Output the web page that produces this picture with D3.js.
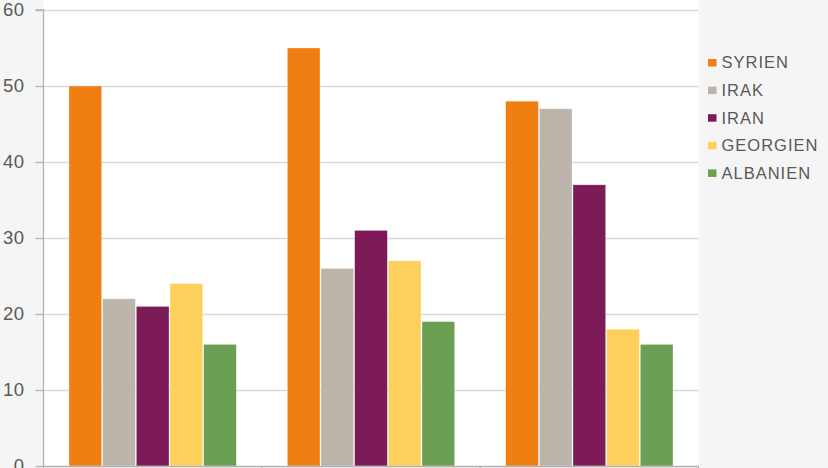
<!DOCTYPE html>
<html><head><meta charset="utf-8">
<script src="https://cdn.jsdelivr.net/npm/d3@7"></script>
<style>
html,body{margin:0;padding:0;background:#f5f5f5;}
svg{display:block;font-family:"Liberation Sans",Arial,sans-serif;}
</style></head>
<body>
<script>
const categories = ["Gruppe 1", "Gruppe 2", "Gruppe 3"];
const seriesNames = ["SYRIEN", "IRAK", "IRAN", "GEORGIEN", "ALBANIEN"];
const SYRIEN = [50, 55, 48];
const IRAK = [22, 26, 47];
const IRAN = [21, 31, 37];
const GEORGIEN = [24, 27, 18];
const ALBANIEN = [16, 19, 16];
const seriesColors = ["#f07e12", "#bdb4ab", "#7d1b59", "#fdd05c", "#6b9f54"];
const yTicks = [0, 10, 20, 30, 40, 50, 60];

const seriesValues = [SYRIEN, IRAK, IRAN, GEORGIEN, ALBANIEN];
const W = 828, H = 468;
const mLeft = 43.5, mRight = 698.5, mTop = 10, mBottom = 466;

const svg = d3.select("body").append("svg").attr("width", W).attr("height", H);
svg.append("rect").attr("width", W).attr("height", H).attr("fill", "#f5f5f5");
svg.append("rect").attr("x", mLeft).attr("y", 0).attr("width", mRight - mLeft).attr("height", mBottom).attr("fill", "#ffffff");

const x0 = d3.scaleBand().domain(categories).range([mLeft, mRight]).padding(0);
const x1 = d3.scaleBand().domain(seriesNames).range([25, x0.bandwidth() - 25]).padding(0);
const y = d3.scaleLinear().domain([0, 60]).range([mBottom, mTop]);

// gridlines
svg.append("g").selectAll("line").data(yTicks.filter(d => d > 0)).join("line")
  .attr("x1", mLeft).attr("x2", mRight)
  .attr("y1", d => Math.round(y(d)) + 0.5).attr("y2", d => Math.round(y(d)) + 0.5)
  .attr("stroke", "#d9d9d9").attr("stroke-width", 1.5);

// bars
const groups = svg.append("g").selectAll("g").data(categories).join("g")
  .attr("transform", d => `translate(${x0(d)},0)`);
groups.selectAll("rect").data((d, i) => seriesNames.map((s, k) => ({s, k, v: seriesValues[k][i]}))).join("rect")
  .attr("x", d => x1(d.s) + 0.5)
  .attr("width", x1.bandwidth() - 1)
  .attr("y", d => y(d.v))
  .attr("height", d => mBottom - y(d.v))
  .attr("fill", d => seriesColors[d.k])
  .attr("stroke", "#ffffff").attr("stroke-opacity", 0.5).attr("stroke-width", 0.6);

// y axis
const yAxis = d3.axisLeft(y).tickValues(yTicks).tickSize(8).tickPadding(11);
const ya = svg.append("g").attr("transform", `translate(${mLeft},0)`).call(yAxis);
ya.select(".domain").attr("stroke", "#b3b3b3").attr("stroke-width", 1.3).attr("d", `M-8,${mTop}H0V${mBottom}`);
ya.selectAll(".tick line").attr("stroke", "#b3b3b3").attr("stroke-width", 1.3);
ya.selectAll(".tick text").attr("fill", "#595959").style("font-size", "18.5px")
  .style("letter-spacing", "0.5px")
  .style("font-family", "'Liberation Sans',Arial,sans-serif");

// x axis
const xa = svg.append("g").attr("transform", `translate(0,${mBottom})`);
xa.append("line").attr("x1", mLeft).attr("x2", mRight).attr("y1", 0.5).attr("y2", 0.5).attr("stroke", "#b3b3b3").attr("stroke-width", 1.3);
const bounds = categories.map(c => x0(c)).concat([mRight]);
xa.selectAll("line.b").data(bounds).join("line").attr("class", "b")
  .attr("x1", d => d).attr("x2", d => d).attr("y1", 0).attr("y2", 8)
  .attr("stroke", "#b3b3b3").attr("stroke-width", 1.3);

// legend
const lg = svg.append("g").attr("transform", "translate(708,62.5)");
const items = lg.selectAll("g").data(seriesNames).join("g")
  .attr("transform", (d, i) => `translate(0,${i * 27.6})`);
items.append("rect").attr("x", 0).attr("y", -3.5).attr("width", 8.5).attr("height", 7.5)
  .attr("fill", (d, i) => seriesColors[i]);
items.append("text").attr("x", 13.5).attr("y", 0).attr("dy", "0.36em")
  .attr("fill", "#595959").style("font-size", "16.5px").style("letter-spacing", "1px").text(d => d);
</script>
</body></html>
